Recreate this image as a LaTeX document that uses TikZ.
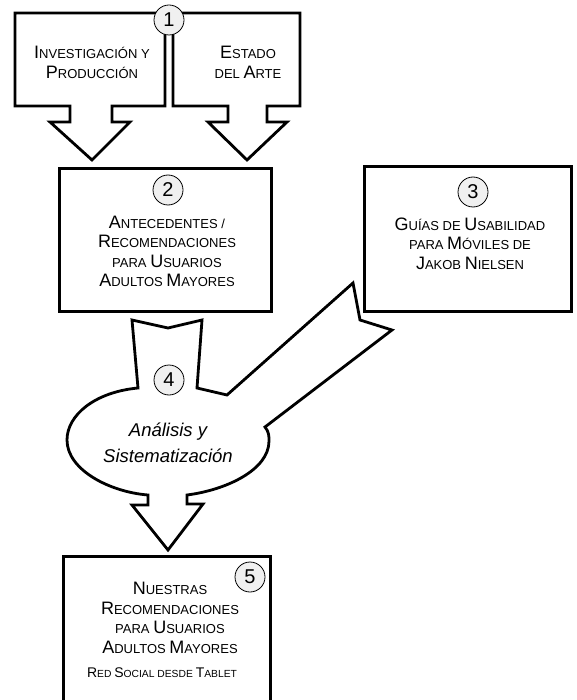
\documentclass[tikz,border=0pt]{standalone}
\usepackage{fontspec}
\setmainfont{Liberation Sans}
\newcommand\B[1]{{\fontsize{18}{19.5}\selectfont #1}}
\newcommand\Sm{\fontsize{13}{19.5}\selectfont}
\newcommand\Bs[1]{{\fontsize{14}{16}\selectfont #1}}
\newcommand\Ss{\fontsize{10.3}{16}\selectfont}
\begin{document}
\begin{tikzpicture}[x=1pt,y=-1pt,
  box/.style={draw, line width=3pt, inner sep=0pt, fill=white},
  shp/.style={draw, line width=2.8pt, fill=white, line join=miter},
  num/.style={circle, draw, line width=0.8pt, fill=gray!12, minimum size=30pt, inner sep=0pt, font=\fontsize{20}{20}\selectfont},
  txt/.style={align=center, font=\Sm, inner sep=0pt}]
\useasboundingbox (0,0) rectangle (577,700);
% callouts 1
\draw[shp] (15,13) -- (165,13) -- (165,106) -- (112,106) -- (112,122) -- (130,122) -- (92,160) -- (50,122) -- (70,122) -- (70,106) -- (15,106) -- cycle;
\draw[shp] (173,13) -- (300,13) -- (300,106) -- (267,106) -- (267,122) -- (287,122) -- (247,160) -- (208,122) -- (228,122) -- (228,106) -- (173,106) -- cycle;
\node[txt] (t1a) at (92,62.5) {\B{I}NVESTIGACIÓN Y\\\B{P}RODUCCIÓN};
\node[txt] (t1b) at (248,62.5) {\B{E}STADO\\DEL \B{A}RTE};
\node[num] (n1) at (169,20) {1};
% box 2
\node[box, minimum width=212pt, minimum height=143pt] (b2) at (165.5,240) {};
\node[txt] (t2) at (167,251.5) {\B{A}NTECEDENTES /\\\B{R}ECOMENDACIONES\\PARA \B{U}SUARIOS\\\B{A}DULTOS \B{M}AYORES};
\node[num] (n2) at (168,190) {2};
% box 3
\node[box, minimum width=207pt, minimum height=145pt] (b3) at (468,239) {};
\node[txt] (t3) at (470,243.5) {\B{G}UÍAS DE \B{U}SABILIDAD\\PARA \B{M}ÓVILES DE\\\B{J}AKOB \B{N}IELSEN};
\node[num] (n3) at (473,192) {3};
% blob 4
\draw[shp] (132,320) -- (168,328) -- (202,320) -- (197,388) -- (227,395) -- (353,283) -- (360,320) -- (392,330) -- (265,427)
  .. controls (269,432) and (269,436) .. (269,441)
  .. controls (269,470) and (226,490) .. (187,495)
  -- (187,504) -- (203,504) -- (168,550) -- (132,505) -- (148,505) -- (148,495)
  .. controls (110,492) and (67,470) .. (67,440)
  .. controls (67,415) and (95,392) .. (138,388) -- cycle;
\node[num] (n4) at (169,380) {4};
\node[align=center, inner sep=0pt, font=\fontsize{18.5}{26}\selectfont\itshape] (t4) at (168,443) {Análisis y\\Sistematización};
% box 5
\node[box, minimum width=207pt, minimum height=164pt] (b5) at (167,638.5) {};
\node[txt] (t5) at (170,618) {\B{N}UESTRAS\\\B{R}ECOMENDACIONES\\PARA \B{U}SUARIOS\\\B{A}DULTOS \B{M}AYORES};
\node[align=center, inner sep=0pt, font=\Ss] (t5b) at (162,673) {\Bs{R}ED \Bs{S}OCIAL DESDE \Bs{T}ABLET};
\node[num] (n5) at (250,577) {5};
\end{tikzpicture}
\end{document}
